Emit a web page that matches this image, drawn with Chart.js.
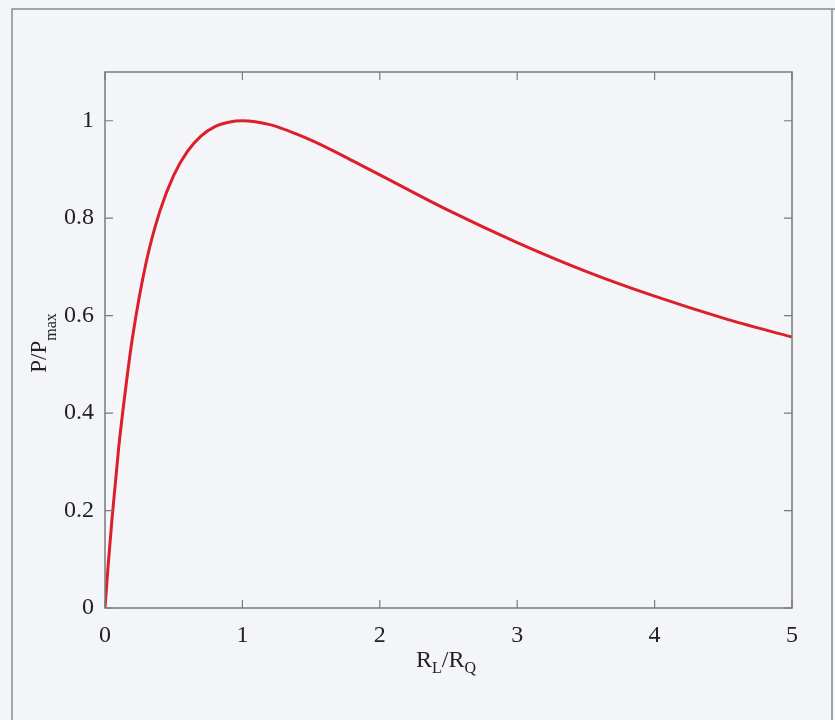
<!DOCTYPE html>
<html>
<head>
<meta charset="utf-8">
<script src="https://cdn.jsdelivr.net/npm/chart.js@4.4.1/dist/chart.umd.min.js"></script>
<style>
  html, body { margin: 0; padding: 0; background: #f3f5f8; }
  #wrap { position: relative; width: 835px; height: 720px; }
  canvas { position: absolute; left: 0; top: 0; }
</style>
</head>
<body>
<div id="wrap"><canvas id="chart" width="835" height="720"></canvas></div>
<script>
// valeurs
const rRatio = [0, 0.02, 0.05, 0.1, 0.15, 0.2, 0.3, 0.4, 0.5, 0.6, 0.7, 0.8, 0.9, 1,
                1.2, 1.4, 1.6, 1.8, 2, 2.5, 3, 3.5, 4, 4.5, 5];
const pRatio = [0, 0.077, 0.18, 0.33, 0.45, 0.555, 0.71, 0.815, 0.888, 0.937, 0.969, 0.988, 0.997, 1.0,
                0.992, 0.972, 0.947, 0.918, 0.889, 0.816, 0.75, 0.691, 0.64, 0.595, 0.556];
const xTicks = [0, 1, 2, 3, 4, 5];
const yTicks = [0, 0.2, 0.4, 0.6, 0.8, 1];

const serif = '"Liberation Serif", "DejaVu Serif", serif';
const axisColor = '#7a7a7a';

// cadre, graduations vers l'intérieur et titres avec indices
const framePlugin = {
    id: 'frame',
    afterDraw(chart) {
        const ctx = chart.ctx;
        const a = chart.chartArea;
        const xs = chart.scales.x;
        const ys = chart.scales.y;
        ctx.save();

        // cadre de la page scannée
        ctx.strokeStyle = '#8a8a8a';
        ctx.lineWidth = 1.5;
        ctx.beginPath();
        ctx.moveTo(12, 720);
        ctx.lineTo(12, 9);
        ctx.lineTo(835, 9);
        ctx.moveTo(832, 9);
        ctx.lineTo(832, 720);
        ctx.stroke();

        ctx.strokeStyle = axisColor;
        ctx.lineWidth = 1.5;
        ctx.strokeRect(a.left, a.top, a.right - a.left, a.bottom - a.top);

        ctx.lineWidth = 1.2;
        ctx.beginPath();
        xTicks.forEach(v => {
            const px = xs.getPixelForValue(v);
            ctx.moveTo(px, a.bottom);
            ctx.lineTo(px, a.bottom - 8);
            ctx.moveTo(px, a.top);
            ctx.lineTo(px, a.top + 8);
        });
        yTicks.forEach(v => {
            const py = ys.getPixelForValue(v);
            ctx.moveTo(a.left, py);
            ctx.lineTo(a.left + 8, py);
            ctx.moveTo(a.right, py);
            ctx.lineTo(a.right - 8, py);
        });
        ctx.stroke();

        ctx.fillStyle = '#222';
        ctx.textBaseline = 'alphabetic';

        // titre axe x : R_L/R_Q
        const parts = [['R', 24, 0], ['L', 16, 6], ['/R', 24, 0], ['Q', 16, 6]];
        let w = 0;
        parts.forEach(p => { ctx.font = p[1] + 'px ' + serif; w += ctx.measureText(p[0]).width; });
        let x = 446 - w / 2;
        const y = 667;
        parts.forEach(p => {
            ctx.font = p[1] + 'px ' + serif;
            ctx.fillText(p[0], x, y + p[2]);
            x += ctx.measureText(p[0]).width;
        });

        // titre axe y : P/P_max
        ctx.translate(46, 343);
        ctx.rotate(-Math.PI / 2);
        const yparts = [['P/P', 23, 0], ['max', 16, 10]];
        let yw = 0;
        yparts.forEach(p => { ctx.font = p[1] + 'px ' + serif; yw += ctx.measureText(p[0]).width; });
        let yx = -yw / 2;
        yparts.forEach(p => {
            ctx.font = p[1] + 'px ' + serif;
            ctx.fillText(p[0], yx, p[2]);
            yx += ctx.measureText(p[0]).width;
        });
        ctx.restore();
    }
};

const ctx = document.getElementById('chart').getContext('2d');
new Chart(ctx, {
    type: 'line',
    data: {
        datasets: [{
            data: rRatio.map((r, i) => ({ x: r, y: pRatio[i] })),
            borderColor: '#dc1f2b',
            borderWidth: 3,
            pointRadius: 0,
            fill: false,
            cubicInterpolationMode: 'monotone'
        }]
    },
    options: {
        responsive: false,
        animation: false,
        layout: { padding: { left: 0, right: 43, top: 72, bottom: 0 } },
        plugins: { legend: { display: false }, tooltip: { enabled: false } },
        scales: {
            x: {
                type: 'linear',
                min: 0,
                max: 5,
                afterBuildTicks: s => { s.ticks = xTicks.map(v => ({ value: v })); },
                afterFit: s => { s.height = 112; },
                grid: { display: false },
                border: { display: false },
                ticks: {
                    color: '#222',
                    font: { family: serif, size: 24 },
                    padding: 5,
                    maxRotation: 0
                }
            },
            y: {
                type: 'linear',
                min: 0,
                max: 1.1,
                afterBuildTicks: s => { s.ticks = yTicks.map(v => ({ value: v })); },
                afterFit: s => { s.width = 105; },
                grid: { display: false },
                border: { display: false },
                ticks: {
                    color: '#222',
                    font: { family: serif, size: 24 },
                    padding: 3,
                    callback: v => String(v)
                }
            }
        }
    },
    plugins: [framePlugin]
});
</script>
</body>
</html>
